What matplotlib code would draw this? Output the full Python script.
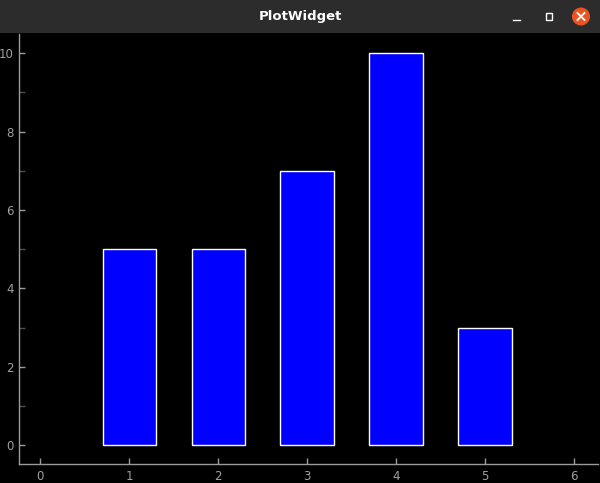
import matplotlib
matplotlib.use('Agg')
import matplotlib.pyplot as plt
from matplotlib.patches import Rectangle, Ellipse
from matplotlib.lines import Line2D

# data
x = [1, 2, 3, 4, 5]
heights = [5, 5, 7, 10, 3]
xticks = [0, 1, 2, 3, 4, 5, 6]
yticks = [0, 2, 4, 6, 8, 10]
yminor = [1, 3, 5, 7, 9]

W, H = 600, 483
fig = plt.figure(figsize=(W / 100, H / 100), dpi=100, facecolor='black')

# window title bar
fig.patches.append(Rectangle((0, 1 - 33 / H), 1, 33 / H, transform=fig.transFigure,
                             facecolor='#2c2c2c', edgecolor='none', zorder=0))
fig.text(0.5, 1 - 16.5 / H, 'PlotWidget', color='white', fontsize=9.5, fontweight='bold',
         ha='center', va='center', family='DejaVu Sans')
# minimize
fig.lines.append(Line2D([513 / W, 520 / W], [1 - 20 / H, 1 - 20 / H], transform=fig.transFigure,
                        color='white', lw=1))
# maximize
fig.patches.append(Rectangle((546 / W, 1 - 20 / H), 6 / W, 7 / H, transform=fig.transFigure,
                             facecolor='none', edgecolor='white', lw=1))
# close
fig.patches.append(Ellipse((581 / W, 1 - 16.5 / H), 18 / W, 18 / H,
                           transform=fig.transFigure, facecolor='#e95420', edgecolor='none'))
fig.lines.append(Line2D([577.5 / W, 584.5 / W], [1 - 13 / H, 1 - 20 / H], transform=fig.transFigure,
                        color='white', lw=1.3))
fig.lines.append(Line2D([577.5 / W, 584.5 / W], [1 - 20 / H, 1 - 13 / H], transform=fig.transFigure,
                        color='white', lw=1.3))

# plot area
ax = fig.add_axes([18.5 / W, (H - 464) / H, (598 - 18.5) / W, (464 - 34) / H])
ax.set_facecolor('black')
ax.bar(x, heights, width=0.6, color='#0000ff', edgecolor='white', linewidth=1)

ax.set_xlim(-0.245, 6.27)
ax.set_ylim(-0.477, 10.49)

for s in ['top', 'right']:
    ax.spines[s].set_visible(False)
for s in ['left', 'bottom']:
    ax.spines[s].set_color('#9a9a9a')
    ax.spines[s].set_linewidth(1)

ax.set_xticks(xticks)
ax.set_yticks(yticks)
ax.set_yticks(yminor, minor=True)
ax.tick_params(axis='both', which='major', direction='in', length=4, width=1,
               color='#9a9a9a', labelcolor='#a0a0a0', labelsize=8.5, pad=4)
ax.tick_params(axis='y', which='minor', direction='in', length=4, width=1, color='#505050')
ax.tick_params(axis='y', which='major', pad=3.5)

plt.savefig('out.png', dpi=100, facecolor='black')
